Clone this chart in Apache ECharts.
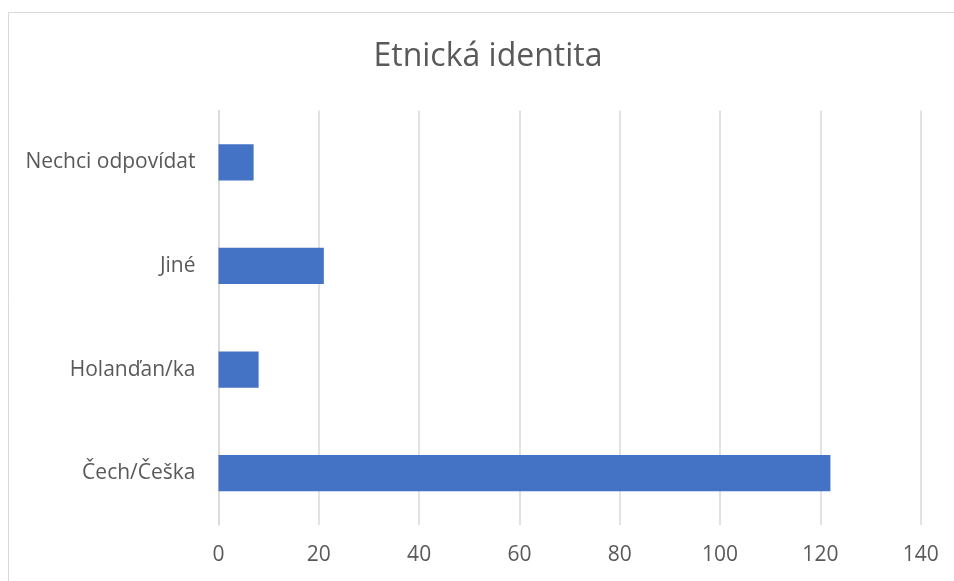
<!DOCTYPE html>
<html>
<head>
<meta charset="utf-8">
<script src="https://cdn.jsdelivr.net/npm/echarts@6/dist/echarts.min.js"></script>
<style>
html,body{margin:0;padding:0;background:#fff;}
#chart{width:954px;height:581px;}
</style>
</head>
<body>
<div id="chart"></div>
<script>
const titleText = "Etnická identita";
const categories = ["Čech/Češka", "Holanďan/ka", "Jiné", "Nechci odpovídat"];
const values = [122, 8, 21, 7];
const xTicks = { min: 0, max: 140, interval: 20 };

const chart = echarts.init(document.getElementById('chart'));
const font = "'Open Sans', 'Noto Sans', sans-serif";
chart.setOption({
  animation: false,
  backgroundColor: '#ffffff',
  graphic: [{
    type: 'rect',
    shape: { x: 8.5, y: 12.5, width: 1000, height: 700 },
    style: { fill: 'none', stroke: '#d9d9d9', lineWidth: 1 },
    silent: true, z: -1
  }],
  title: {
    text: titleText,
    left: 483, top: 36, textAlign: 'center',
    textStyle: { color: '#595959', fontFamily: font, fontSize: 32, fontWeight: 'normal' }
  },
  grid: { left: 218.5, right: 33.3, top: 110.5, bottom: 56, containLabel: false },
  xAxis: {
    type: 'value', min: xTicks.min, max: xTicks.max, interval: xTicks.interval,
    axisLine: { show: false }, axisTick: { show: false },
    splitLine: { lineStyle: { color: '#d9d9d9', width: 1.5 } },
    axisLabel: { color: '#595959', fontFamily: font, fontSize: 21, margin: 20 }
  },
  yAxis: {
    type: 'category', data: categories,
    axisLine: { show: true, lineStyle: { color: '#d9d9d9', width: 1.5 } },
    axisTick: { show: false },
    axisLabel: { color: '#595959', fontFamily: font, fontSize: 21, margin: 23 }
  },
  series: [{
    type: 'bar', data: values, barWidth: '35%',
    itemStyle: { color: '#4472C4' }
  }]
});
</script>
</body>
</html>
